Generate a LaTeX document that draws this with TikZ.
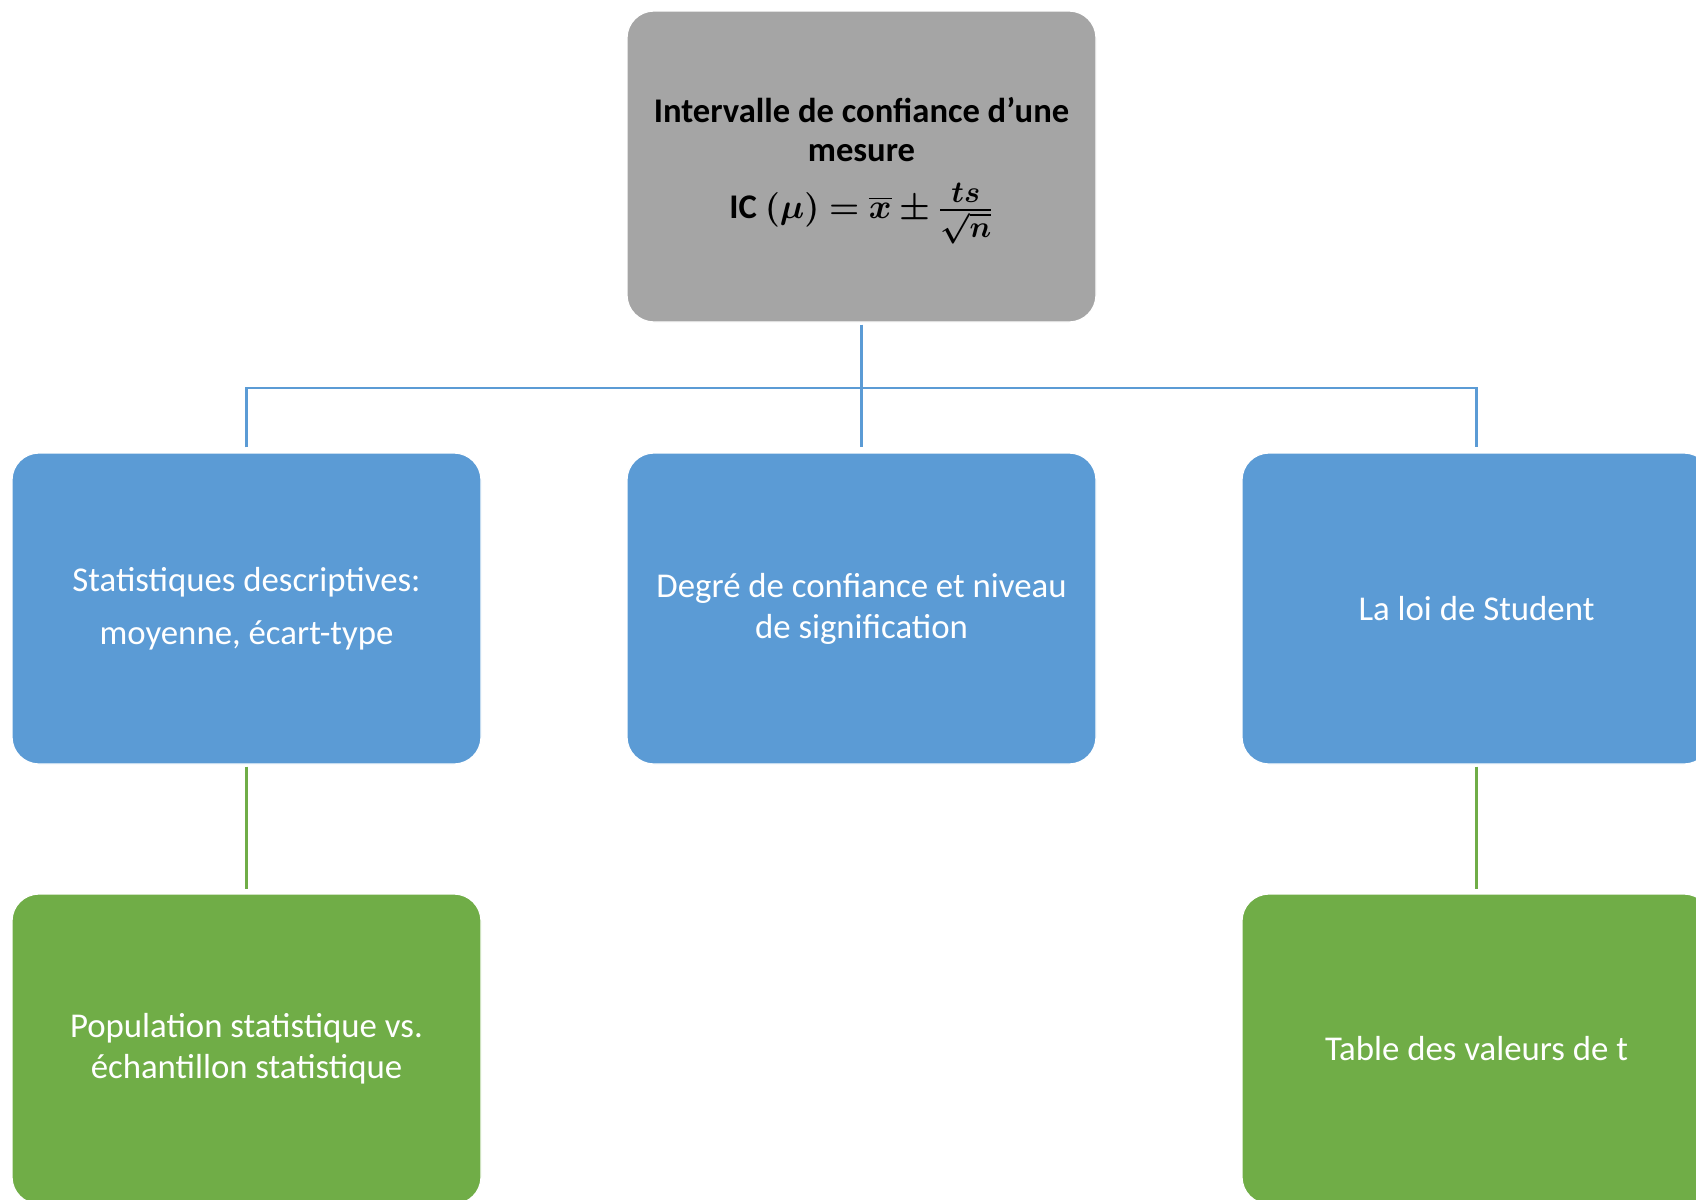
\documentclass[tikz,border=0pt]{standalone}
\usepackage{amsmath}
\usepackage{bm}
\usepackage{fontspec}
\setmainfont{Carlito}
\definecolor{greybox}{HTML}{A5A5A5}
\definecolor{bluebox}{HTML}{5B9BD5}
\definecolor{greenbox}{HTML}{70AD47}
\newcommand{\fracpart}[1]{\scalebox{0.88}{$\textstyle\bm{#1}$}}
\begin{document}
\begin{tikzpicture}[x=0.5pt,y=-0.5pt,
  box/.style={rounded corners=13.5pt, draw=white, line width=0.6pt,
    minimum width=234.5pt, minimum height=155.5pt, align=center,
    inner sep=0pt, font=\fontsize{17.4pt}{20.5pt}\selectfont},
  topbox/.style={box, fill=greybox, text=black, font=\bfseries\fontsize{17.3pt}{19.5pt}\selectfont},
  bluenode/.style={box, fill=bluebox, text=white},
  greennode/.style={box, fill=greenbox, text=white},
  bline/.style={draw=bluebox, line width=1.3pt},
  gline/.style={draw=greenbox, line width=1.3pt}]
\useasboundingbox (0,0) rectangle (1696,1199);
\fill[white] (0,0) rectangle (1696,1199);

% level 0
\node[topbox] (top) at (861.5,166.5)
  {\rule{0pt}{17pt}Intervalle de confiance d’une\\ mesure\\[9pt]
   IC $\bm{(\mu) = \overline{x} \pm
     \frac{\fracpart{ts}\rule[-2.5pt]{0pt}{0pt}}{\rule{0pt}{12pt}\fracpart{\sqrt{n}}}}$};

% level 1
\node[bluenode] (desc) at (246.5,608.5)
  {Statistiques descriptives:\\[6pt] moyenne, écart-type};
\node[bluenode] (conf) at (861.5,608.5)
  {Degré de confiance et niveau\\ de signification};
\node[bluenode] (stud) at (1476.5,608.5) {La loi de Student};

% level 2
\node[greennode, minimum height=155pt] (popu) at (246.5,1049)
  {Population statistique vs.\\ échantillon statistique};
\node[greennode, minimum height=155pt] (tabl) at (1476.5,1049)
  {Table des valeurs de t};

% connectors
\coordinate (bus) at (861.5,388);
\draw[bline] ([yshift=-1pt]top.south) -- ([yshift=2.5pt]conf.north);
\draw[bline] ([yshift=2.5pt]desc.north) -- (desc.north |- bus)
  -- (stud.north |- bus) -- ([yshift=2.5pt]stud.north);
\draw[gline] ([yshift=-1pt]desc.south) -- ([yshift=2pt]popu.north);
\draw[gline] ([yshift=-1pt]stud.south) -- ([yshift=2pt]tabl.north);
\end{tikzpicture}
\end{document}
